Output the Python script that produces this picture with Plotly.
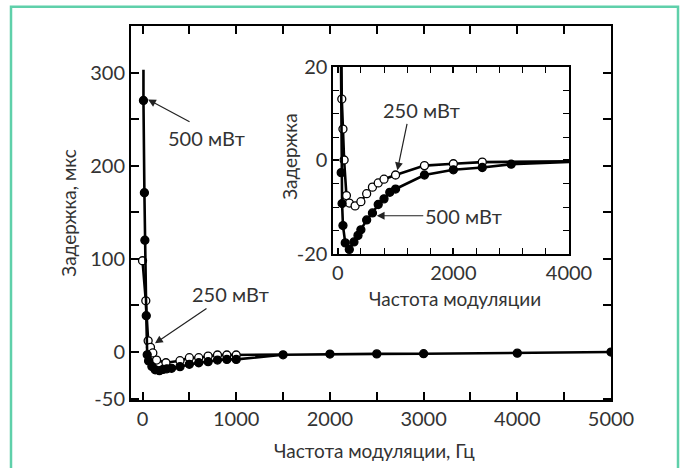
import plotly.graph_objects as go

# ---------------- data ----------------
# main plot, 500 mW (filled circles)
main500_f = [10, 20, 25, 40, 50, 65, 100, 135, 180, 220, 260, 310, 400, 500, 600, 700, 800, 900, 1000, 1500, 2000, 2500, 3000, 4000, 5000]
main500_d = [270, 171, 120, 39, -3, -9.5, -15.5, -19, -20, -18.6, -18, -17.5, -15.7, -13.2, -11.5, -10.4, -8.6, -7.9, -7.9, -3, -2.2, -2, -1.8, -1.2, 0]
# fitted curve start above first point
main500_top_f = [10]
main500_top_d = [303]

# main plot, 250 mW (open circles)
main250_f = [0, 35, 60, 85, 110, 150, 250, 400, 500, 600, 700, 800, 900, 1000]
main250_d = [98, 55, 12, 5, -1, -8.6, -11.5, -9.3, -6.1, -6.1, -4.3, -3.2, -3.2, -3.2]
main250_tail_f = [1500]
main250_tail_d = [-2.6]

# inset, 500 mW
ins500_f = [60, 75, 90, 130, 200, 280, 350, 400, 500, 600, 700, 800, 900, 1000, 1500, 2000, 2500, 3000]
ins500_d = [-2.6, -9.2, -13.9, -17.6, -19.0, -17.4, -16.0, -14.8, -12.7, -11.2, -9.4, -8.2, -6.8, -6.1, -3.1, -2.0, -1.5, -0.8]
ins500_head_f = [45]
ins500_head_d = [39]
ins500_tail_f = [4000]
ins500_tail_d = [-0.3]

# inset, 250 mW
ins250_f = [70, 90, 110, 150, 200, 300, 400, 500, 600, 700, 800, 1000, 1500, 2000, 2500]
ins250_d = [13.1, 6.7, 0.1, -7.5, -9.1, -9.7, -8.8, -7.1, -5.7, -4.8, -4.0, -3.1, -1.1, -0.7, -0.35]
ins250_head_f = [35]
ins250_head_d = [55]
ins250_tail_f = [4000]
ins250_tail_d = [-0.2]

main_xticks = [0, 1000, 2000, 3000, 4000, 5000]
main_xminor = [500, 1500, 2500, 3500, 4500]
main_yticks = [-50, 0, 100, 200, 300]
main_ytext = ["-50", "0", "100", "200", "300"]
main_yminor = [50, 150, 250]
ins_xticks = [0, 2000, 4000]
ins_yticks = [-20, 0, 20]
ins_ytext = ["-20", "0", "20"]
ins_yminor = [-15, -10, -5, 5, 10, 15]

FONT = "Lato"
TXT = "#333333"
LW = 2.6
FS = 20

fig = go.Figure()

def add_series(f, d, head_f, head_d, tail_f, tail_d, filled, xa, ya, msize):
    fig.add_trace(go.Scatter(x=head_f + f + tail_f, y=head_d + d + tail_d, mode="lines",
                             line=dict(color="black", width=LW), xaxis=xa, yaxis=ya,
                             showlegend=False, hoverinfo="skip"))
    fig.add_trace(go.Scatter(x=f, y=d, mode="markers",
                             marker=dict(size=msize, color="black" if filled else "white",
                                         line=dict(color="black", width=1.3)),
                             xaxis=xa, yaxis=ya, showlegend=False, cliponaxis=True))

# main
add_series(main250_f, main250_d, [], [], main250_tail_f, main250_tail_d, False, "x", "y", 8)
add_series(main500_f, main500_d, main500_top_f, main500_top_d, [], [], True, "x", "y", 8)
# inset
add_series(ins250_f, ins250_d, ins250_head_f, ins250_head_d, ins250_tail_f, ins250_tail_d, False, "x2", "y2", 8)
add_series(ins500_f, ins500_d, ins500_head_f, ins500_head_d, ins500_tail_f, ins500_tail_d, True, "x2", "y2", 8)

axis_common = dict(showline=True, linecolor="black", linewidth=2, mirror="ticks",
                   ticks="inside", tickcolor="black", tickwidth=1.6, showgrid=False,
                   zeroline=False, tickfont=dict(family=FONT, size=FS, color=TXT))

fig.update_layout(
    width=684, height=468,
    margin=dict(l=131, r=73, t=26, b=68, autoexpand=False),
    paper_bgcolor="white", plot_bgcolor="white",
    font=dict(family=FONT, color=TXT),
    xaxis=dict(**axis_common, range=[-123, 5000], tickvals=main_xticks, ticklen=8,
               minor=dict(tickvals=main_xminor, ticks="inside", ticklen=8,
                          tickcolor="black", tickwidth=1.6)),
    yaxis=dict(**axis_common, range=[-51.5, 350], tickvals=main_yticks, ticktext=main_ytext, ticklen=8,
               minor=dict(tickvals=main_yminor, ticks="inside", ticklen=8,
                          tickcolor="black", tickwidth=1.6)),
    xaxis2=dict(**axis_common, domain=[0.4217, 0.9125], anchor="y2", range=[-75, 4000],
                tickvals=ins_xticks, ticklen=6,
                minor=dict(dtick=400, tick0=0, ticks="inside", ticklen=6, tickcolor="black", tickwidth=1.4)),
    yaxis2=dict(**axis_common, domain=[0.390, 0.891], anchor="x2", range=[-20, 20],
                tickvals=ins_yticks, ticktext=ins_ytext, ticklen=6,
                minor=dict(tickvals=ins_yminor, ticks="inside", ticklen=6, tickcolor="black", tickwidth=1.4)),
)

# green frame
fig.add_shape(type="rect", xref="paper", yref="paper", x0=-0.25, x1=1.1396, y0=-0.25, y1=1.0516,
              line=dict(color="#5fd0aa", width=2.5), fillcolor="rgba(0,0,0,0)", layer="below")

# axis titles as paper annotations
titles = [
    dict(x=0.508, y=-0.134, text="Частота модуляции, Гц", textangle=0),
    dict(x=-0.132, y=0.5, text="Задержка, мкс", textangle=-90),
    dict(x=0.675, y=0.2727, text="Частота модуляции", textangle=0),
    dict(x=0.331, y=0.65, text="Задержка", textangle=-90),
]
for t in titles:
    fig.add_annotation(xref="paper", yref="paper", showarrow=False, xanchor="center", yanchor="middle",
                       font=dict(family=FONT, size=19, color=TXT), **t)

# annotations: arrows
arrows = [
    dict(x=59, y=271, ax=43, ay=23, xref="x", yref="y"),
    dict(x=133, y=9.3, ax=53, ay=-36, xref="x", yref="y"),
    dict(x=1031, y=-2.1, ax=10, ay=-48, xref="x2", yref="y2"),
    dict(x=675, y=-11.8, ax=48, ay=0, xref="x2", yref="y2"),
]
for a in arrows:
    fig.add_annotation(text="", showarrow=True, arrowhead=2, arrowsize=1.3, arrowwidth=1.2,
                       arrowcolor="#222222", **a)

labels = [
    dict(x=683, y=229.6, text="500 мВт", xref="x", yref="y"),
    dict(x=934, y=62.2, text="250 мВт", xref="x", yref="y"),
    dict(x=1453, y=10.8, text="250 мВт", xref="x2", yref="y2"),
    dict(x=2173, y=-11.8, text="500 мВт", xref="x2", yref="y2"),
]
for l in labels:
    fig.add_annotation(showarrow=False, font=dict(family=FONT, size=FS, color=TXT), **l)

fig.write_html("out.html", config={"displayModeBar": False},
               post_script="document.body.style.margin='0';")
